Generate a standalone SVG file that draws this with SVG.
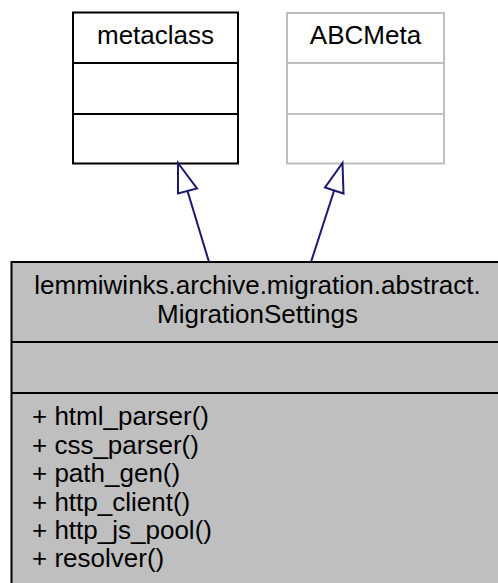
<svg xmlns="http://www.w3.org/2000/svg" width="498" height="583" viewBox="0 0 498 583">
<style>
text { font-family: "Liberation Sans", Arial, Helvetica, sans-serif; font-size: 26px; fill: #000; }
.c { text-anchor: middle; }
.box { fill: #fff; stroke: #000; stroke-width: 2; }
.gbox { fill: #fff; stroke: #bfbfbf; stroke-width: 2; }
.main { fill: #bfbfbf; stroke: #000; stroke-width: 2; }
.edge { stroke: #191970; stroke-width: 2; fill: none; }
.head { stroke: #191970; stroke-width: 2; fill: #fff; }
</style>
<rect width="498" height="583" fill="#fff"/>
<g id="node-metaclass">
<rect class="box" x="73" y="12.5" width="165" height="151"/>
<line class="box" x1="73" y1="63" x2="238" y2="63"/>
<line class="box" x1="73" y1="114" x2="238" y2="114"/>
<text class="c" x="155.5" y="44">metaclass</text>
</g>
<g id="node-abcmeta">
<rect class="gbox" x="287" y="13" width="157" height="150.5"/>
<line class="gbox" x1="287" y1="63" x2="444" y2="63"/>
<line class="gbox" x1="287" y1="114" x2="444" y2="114"/>
<text class="c" x="365.5" y="44">ABCMeta</text>
</g>
<g id="node-migrationsettings">
<rect class="main" x="11.5" y="262" width="500" height="340"/>
<line class="main" x1="11.5" y1="342" x2="511" y2="342"/>
<line class="main" x1="11.5" y1="393" x2="511" y2="393"/>
<text class="c" x="257.5" y="294">lemmiwinks.archive.migration.abstract.</text>
<text class="c" x="257.5" y="322.5">MigrationSettings</text>
<text x="32" y="425">+ html_parser()</text>
<text x="32" y="453.5">+ css_parser()</text>
<text x="32" y="482">+ path_gen()</text>
<text x="32" y="510.5">+ http_client()</text>
<text x="32" y="539">+ http_js_pool()</text>
<text x="32" y="567">+ resolver()</text>
</g>
<g id="connectors">
<line class="edge" x1="209" y1="262" x2="187.5" y2="191"/>
<polygon class="head" points="178,163 197,188.5 178,193.5"/>
<line class="edge" x1="311" y1="262" x2="334" y2="191"/>
<polygon class="head" points="342.5,163 343.5,193.5 325,187.5"/>
</g>
</svg>
